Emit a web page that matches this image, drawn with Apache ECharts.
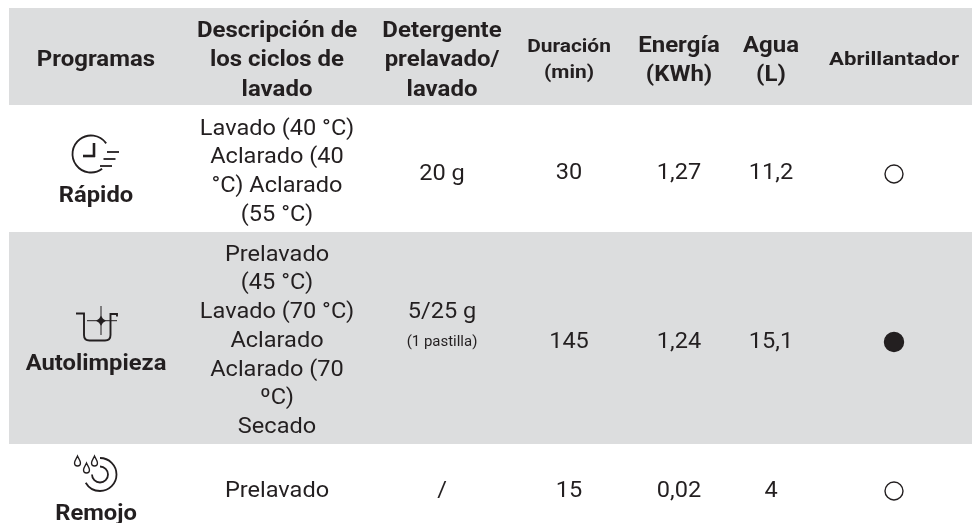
<!DOCTYPE html>
<html><head><meta charset="utf-8">
<style>html,body{margin:0;padding:0;background:#fff}#c{width:972px;height:523px}</style>
<script src="https://cdn.jsdelivr.net/npm/echarts@6/dist/echarts.min.js"></script></head>
<body><div id="c"></div>
<script>
// ---- data ----
const headers = [
  ["Programas"],
  ["Descripción de","los ciclos de","lavado"],
  ["Detergente","prelavado/","lavado"],
  ["Duración","(min)"],
  ["Energía","(KWh)"],
  ["Agua","(L)"],
  ["Abrillantador"]
];
const programas = ["Rápido","Autolimpieza","Remojo"];
const descripciones = [
  ["Lavado (40 °C)","Aclarado (40","°C) Aclarado","(55 °C)"],
  ["Prelavado","(45 °C)","Lavado (70 °C)","Aclarado","Aclarado (70","ºC)","Secado"],
  ["Prelavado"]
];
const detergente = ["20 g","5/25 g","/"];
const detergenteNota = ["","(1 pastilla)",""];
const duracion = ["30","145","15"];
const energia = ["1,27","1,24","0,02"];
const agua = ["11,2","15,1","4"];
const abrillantador = [false,true,false];

// ---- layout (table geometry, in axis units = px) ----
const colX = [96,277,442,569,679,771,894];
const bands = [[9,8,972,105],[9,232,972,444]];
const headerY = [[60],[31,60,90],[31,60,90],[47,73],[46,75],[46,75],[60]];
const headerSize = [22,22,22,18.5,22,22,18.5];
const headerSx = [1.09,1.09,1.09,1.13,1.09,1.09,1.2];
const descY = [[129,157,186,215],[255,283,312,341,370,398,427],[491]];
const valueY = [173,342,491];
const detY = [174,312,491];
const progY = [196,364,514];
const markY = [174,342,491];
const INK = "#231f20", BAND = "#dcddde";
const FONT = "Roboto";
const SX_BOLD = 1.09, SX_REG = 1.07;

const texts = [];
function add(x,y,t,size,bold,sx){ texts.push([x,y,t,size,bold?1:0,sx]); }
headers.forEach((h,c)=>h.forEach((t,i)=>add(colX[c],headerY[c][i],t,headerSize[c],true,headerSx[c])));
programas.forEach((t,r)=>add(colX[0],progY[r],t,22,true,1.08));
descripciones.forEach((ls,r)=>ls.forEach((t,i)=>add(colX[1],descY[r][i],t,22,false,SX_REG)));
detergente.forEach((t,r)=>add(colX[2],detY[r],t,22,false,SX_REG));
detergenteNota.forEach((t,r)=>{ if(t) add(colX[2],detY[r]+30,t,14,false,SX_REG); });
duracion.forEach((t,r)=>add(colX[3],valueY[r],t,22,false,SX_REG));
energia.forEach((t,r)=>add(colX[4],valueY[r],t,22,false,SX_REG));
agua.forEach((t,r)=>add(colX[5],valueY[r],t,22,false,SX_REG));

const marks = abrillantador.map((v,r)=>[colX[6],markY[r],v?1:0]);
const icons = [[0,0,0],[0,0,1],[0,0,2]];

function line(a,b,c,d,w){return {type:'line',shape:{x1:a,y1:b,x2:c,y2:d},style:{stroke:INK,lineWidth:w,fill:null}};}
function arc(cx,cy,r,s,e,w){return {type:'arc',shape:{cx,cy,r,startAngle:s*Math.PI/180,endAngle:e*Math.PI/180,clockwise:true},style:{stroke:INK,lineWidth:w,fill:null}};}
function drop(x,y){return {type:'path',shape:{pathData:`M${x} ${y-5.5}C${x+1} ${y-3} ${x+3} ${y-1} ${x+3} ${y+1.5}A3 3 0 0 1 ${x-3} ${y+1.5}C${x-3} ${y-1} ${x-1} ${y-3} ${x} ${y-5.5}Z`},style:{stroke:INK,lineWidth:1.3,fill:null}};}
const iconShapes = [[],[],[]];
iconShapes[0] = [
  arc(91,154,18.5,53,325,1.8),
  line(94,143,94,157,2.6), line(83,156,95,156,2.6),
  line(107,152,119,152,1.8), line(103.5,159,115.5,159,1.8), line(100,166,112,166,1.8)
];
iconShapes[1] = [
  {type:'path',shape:{pathData:'M76 313.5H84V335Q84 340.5 89.5 340.5H105Q110.5 340.5 110.5 335V314H117V316.5'},style:{stroke:INK,lineWidth:1.9,fill:null}},
  line(101,306,101,335,1), line(87,320.7,117,320.7,1),
  {type:'path',shape:{pathData:'M101 315.7L103 318.7L106 320.7L103 322.7L101 325.7L99 322.7L96 320.7L99 318.7Z'},style:{fill:INK}}
];
iconShapes[2] = [
  drop(77.5,461.5), drop(86.5,468.5), drop(94.5,461.5),
  arc(100,474.5,16.5,-90,150,1.8),
  arc(100,474.5,8,-90,180,1.8)
];

const option = {
  animation:false,
  grid:{left:0,right:0,top:0,bottom:0},
  xAxis:{type:'value',min:0,max:972,show:false},
  yAxis:{type:'value',min:0,max:523,inverse:true,show:false},
  series:[
    {type:'custom',silent:true,z:1,coordinateSystem:'cartesian2d',data:bands,encode:{x:[0,2],y:[1,3]},
     renderItem(p,api){
       const a=api.coord([api.value(0),api.value(1)]), b=api.coord([api.value(2),api.value(3)]);
       return {type:'rect',shape:{x:a[0],y:a[1],width:b[0]-a[0],height:b[1]-a[1]},style:{fill:BAND}};
     }},
    {type:'custom',silent:true,z:3,data:marks,encode:{x:0,y:1},
     renderItem(p,api){
       const a=api.coord([api.value(0),api.value(1)]);
       const filled=api.value(2)===1;
       return {type:'circle',shape:{cx:a[0],cy:a[1],r:filled?9.5:9},
               style:{fill:filled?INK:'none',stroke:INK,lineWidth:1.4}};
     }},
    {type:'custom',silent:true,z:3,data:icons,encode:{x:0,y:1},
     renderItem(p,api){
       return {type:'group',children:iconShapes[api.value(2)]};
     }},
    {type:'custom',silent:true,z:4,data:texts.map(t=>t.slice()),dimensions:['x','y','t','s','b','sx'],encode:{x:0,y:1},
     renderItem(p,api){
       const d=texts[p.dataIndex], a=api.coord([d[0],d[1]]);
       return {type:'text',x:a[0],y:a[1],scaleX:d[5],
         style:{text:d[2],x:0,y:0,align:'center',verticalAlign:'middle',fill:INK,
                font:(d[4]?'bold ':'')+d[3]+'px '+FONT}};
     }}
  ]
};
echarts.init(document.getElementById('c')).setOption(option);
</script></body></html>
